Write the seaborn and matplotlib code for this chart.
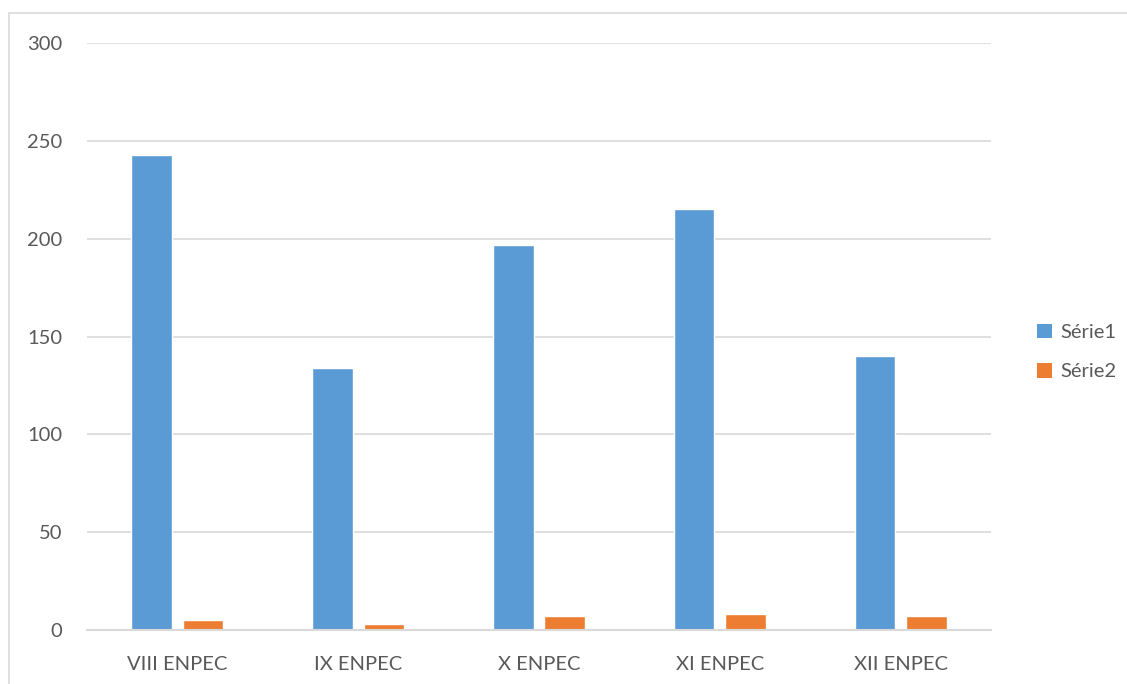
import matplotlib
matplotlib.use("Agg")
import matplotlib.pyplot as plt
import seaborn as sns
import pandas as pd
from matplotlib.patches import Patch
from matplotlib.lines import Line2D

categories = ["VIII ENPEC", "IX ENPEC", "X ENPEC", "XI ENPEC", "XII ENPEC"]
serie1 = [243, 134, 197, 215, 140]
serie2 = [5, 3, 7, 8, 7]
series_names = ["Série1", "Série2"]
colors = ["#5B9BD5", "#ED7D31"]
yticks = [0, 50, 100, 150, 200, 250, 300]

df = pd.DataFrame({
    "cat": categories * 2,
    "val": serie1 + serie2,
    "serie": [series_names[0]] * len(categories) + [series_names[1]] * len(categories),
})

sns.set_theme(style="white")
plt.rcParams["font.family"] = ["Lato", "DejaVu Sans"]

W, H = 1127, 684
fig = plt.figure(figsize=(W / 100, H / 100), dpi=100)
ax = fig.add_axes([87 / W, 1 - 630 / H, (991 - 87) / W, (630 - 43) / H])

sns.barplot(data=df, x="cat", y="val", hue="serie", palette=colors, ax=ax,
            width=0.568, gap=0.21, saturation=1, legend=False, errorbar=None)

ax.set_ylim(0, 300)
ax.set_xlim(-0.5, len(categories) - 0.5)
ax.set_yticks(yticks)
ax.set_yticklabels([str(t) for t in yticks])
ax.yaxis.grid(True, color="#D9D9D9", linewidth=1.2)
ax.set_axisbelow(True)
for s in ["top", "right", "left"]:
    ax.spines[s].set_visible(False)
ax.spines["bottom"].set_color("#D9D9D9")
ax.spines["bottom"].set_linewidth(1.5)
ax.set_xlabel("")
ax.set_ylabel("")
ax.tick_params(axis="both", length=0, labelsize=14.5, colors="#595959")
ax.tick_params(axis="y", pad=18)
ax.tick_params(axis="x", pad=19)

handles = [Patch(facecolor=c, edgecolor="none") for c in colors]
fig.legend(handles, series_names, loc="center left", bbox_to_anchor=(1019 / W, 1 - 352 / H),
           frameon=False, fontsize=14.5, labelcolor="#595959", handlelength=0.75,
           handleheight=0.75, handletextpad=0.4, labelspacing=1.1)

# chart-area border (left and top visible)
fig.add_artist(Line2D([9 / W, 9 / W], [0, 1 - 13 / H], transform=fig.transFigure,
                      color="#D9D9D9", linewidth=1.2))
fig.add_artist(Line2D([9 / W, 1], [1 - 13 / H, 1 - 13 / H], transform=fig.transFigure,
                      color="#D9D9D9", linewidth=1.2))

fig.savefig("out.png", dpi=100, facecolor="white")
